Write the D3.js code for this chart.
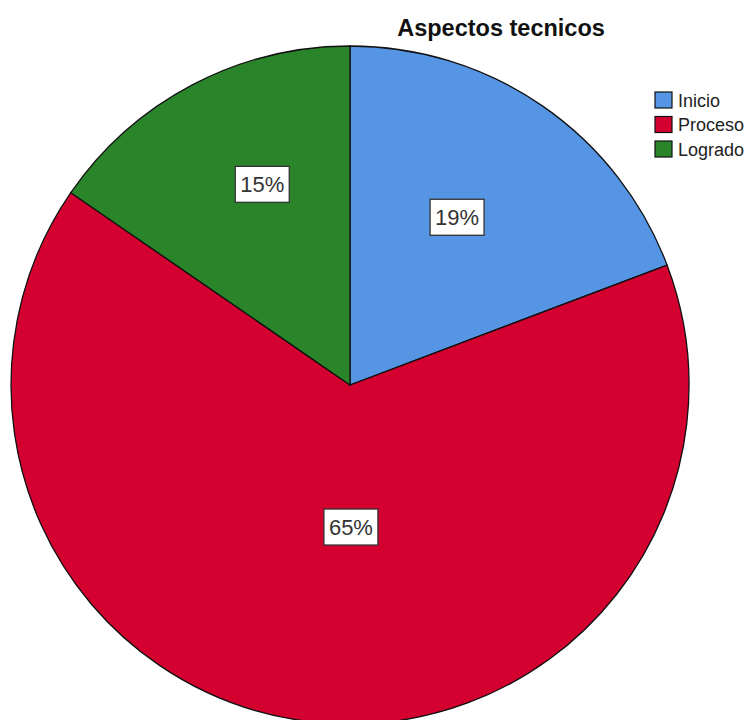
<!DOCTYPE html>
<html><head><meta charset="utf-8">
<script src="https://cdn.jsdelivr.net/npm/d3@7"></script>
<style>body{margin:0;background:#fff}svg{display:block}</style>
</head><body>
<script>
const title = "Aspectos tecnicos";
const categories = ["Inicio", "Proceso", "Logrado"];
const values = [19.25, 65.35, 15.4];
const labels = ["19%", "65%", "15%"];
const colors = ["#5595e3", "#d40030", "#2a852a"];

const W = 750, H = 720;
const cx = 350, cy = 385, R = 339;
const svg = d3.select("body").append("svg").attr("width", W).attr("height", H);

const pie = d3.pie().sort(null).value(d => d.v);
const data = pie(categories.map((c, i) => ({c, v: values[i], l: labels[i], col: colors[i]})));
const arc = d3.arc().innerRadius(0).outerRadius(R);
const g = svg.append("g").attr("transform", `translate(${cx},${cy})`);
g.selectAll("path.slice").data(data).join("path")
  .attr("class", "slice")
  .attr("d", arc)
  .attr("fill", d => d.data.col)
  .attr("stroke", "#111")
  .attr("stroke-width", 1.3);

// label placement (layout): radius fraction and angular shift (degrees)
const labelR = [0.587, 0.419, 0.646];
const labelShift = [-2.1, -7.3, 4.1];
data.forEach((d, i) => {
  const a = (d.startAngle + d.endAngle) / 2 + labelShift[i] * Math.PI / 180;
  const r = R * labelR[i];
  const x = r * Math.sin(a), y = -r * Math.cos(a);
  const lg = g.append("g").attr("transform", `translate(${x},${y})`);
  lg.append("rect")
    .attr("x", -27).attr("y", -18).attr("width", 54).attr("height", 36)
    .attr("fill", "#fff").attr("stroke", "#333").attr("stroke-width", 1.3);
  lg.append("text").text(d.data.l)
    .attr("text-anchor", "middle").attr("dominant-baseline", "central")
    .attr("font-family", "Liberation Sans, Arial, sans-serif")
    .attr("font-size", 22).attr("fill", "#333");
});

svg.append("text").text(title)
  .attr("x", 501).attr("y", 36).attr("text-anchor", "middle")
  .attr("font-family", "Liberation Sans, Arial, sans-serif")
  .attr("font-weight", "bold").attr("font-size", 23.5).attr("fill", "#111");

const leg = svg.append("g").attr("transform", "translate(655,92)");
const items = leg.selectAll("g").data(categories).join("g")
  .attr("transform", (d, i) => `translate(0,${i * 24.5})`);
items.append("rect").attr("width", 17).attr("height", 16)
  .attr("fill", (d, i) => colors[i]).attr("stroke", "#111").attr("stroke-width", 1.2);
items.append("text").text(d => d).attr("x", 23).attr("y", 8.5)
  .attr("dominant-baseline", "central")
  .attr("font-family", "Liberation Sans, Arial, sans-serif")
  .attr("font-size", 18).attr("fill", "#222");
</script>
</body></html>
